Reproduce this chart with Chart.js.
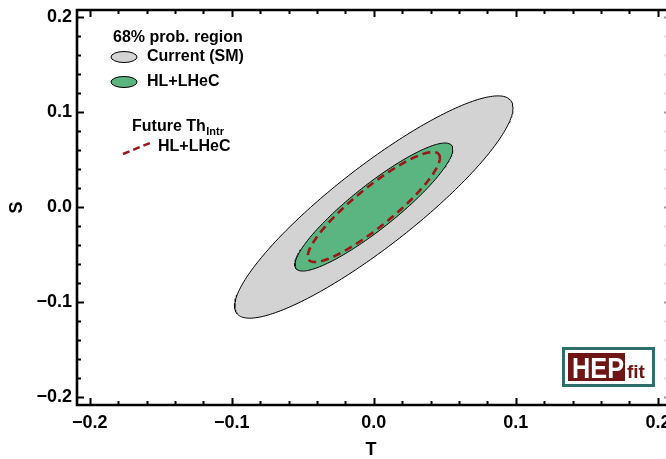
<!DOCTYPE html>
<html>
<head>
<meta charset="utf-8">
<script src="https://cdn.jsdelivr.net/npm/chart.js@4/dist/chart.umd.min.js"></script>
<style>
html,body{margin:0;padding:0;background:#fff;}
#wrap{width:666px;height:459px;position:relative;}
</style>
</head>
<body>
<div id="wrap"><canvas id="c" width="666" height="459"></canvas></div>
<script>
// ---- data ----
const T_TICKS = [-0.2, -0.1, 0.0, 0.1, 0.2];
const S_TICKS = [-0.2, -0.1, 0.0, 0.1, 0.2];
const T_MINOR_STEP = 0.02;
const S_MINOR_STEP = 0.02;
const T_RANGE = [-0.209, 0.205];
const S_RANGE = [-0.2084, 0.2074];

// 68% probability regions (ellipses): centre, half-extent along T and S, correlation
const REGION_LABELS = ['Current (SM)', 'HL+LHeC', 'HL+LHeC'];
const CENTER_T = [0.0, 0.0, 0.0];
const CENTER_S = [0.0, 0.0, 0.0];
const EXTENT_T = [0.098, 0.0556, 0.0465];
const EXTENT_S = [0.117, 0.0674, 0.0579];
const CORR     = [0.892, 0.902, 0.894];

const LEGEND_TITLE = '68% prob. region';
const LEGEND_TITLE2 = 'Future Th';
const LEGEND_TITLE2_SUB = 'Intr';

const FONT = "'Liberation Sans', Arial, Helvetica, sans-serif";
const GRAY = '#d3d3d3';
const GREEN = '#5ab581';
const RED = '#9c1616';

function ellipsePoints(i, n) {
  const pts = [];
  const r = Math.sqrt(1 - CORR[i] * CORR[i]);
  for (let k = 0; k <= n; k++) {
    const t = 2 * Math.PI * k / n;
    pts.push({
      x: CENTER_T[i] + EXTENT_T[i] * Math.cos(t),
      y: CENTER_S[i] + EXTENT_S[i] * (CORR[i] * Math.cos(t) + r * Math.sin(t))
    });
  }
  return pts;
}

function fmt(v) {
  const s = (Math.abs(v) < 1e-9 ? 0 : v).toFixed(1);
  return s.replace('-', '\u2212');
}

const framePlugin = {
  id: 'frame',
  afterDatasetsDraw(chart) {
    const {ctx, chartArea: a, scales: {x, y}} = chart;
    ctx.save();
    // ticks
    ctx.strokeStyle = '#000';
    ctx.lineWidth = 2;
    const tMin = Math.ceil(T_RANGE[0] / T_MINOR_STEP - 1e-6);
    const tMax = Math.floor(T_RANGE[1] / T_MINOR_STEP + 1e-6);
    for (let k = tMin; k <= tMax; k++) {
      const v = k * T_MINOR_STEP;
      const major = T_TICKS.some(m => Math.abs(m - v) < 1e-6);
      const len = major ? 7 : 4;
      const px = Math.round(x.getPixelForValue(v)) + 0.5;
      ctx.beginPath();
      ctx.moveTo(px, a.bottom); ctx.lineTo(px, a.bottom - len);
      ctx.moveTo(px, a.top); ctx.lineTo(px, a.top + len);
      ctx.stroke();
    }
    const sMin = Math.ceil(S_RANGE[0] / S_MINOR_STEP - 1e-6);
    const sMax = Math.floor(S_RANGE[1] / S_MINOR_STEP + 1e-6);
    for (let k = sMin; k <= sMax; k++) {
      const v = k * S_MINOR_STEP;
      const major = S_TICKS.some(m => Math.abs(m - v) < 1e-6);
      const len = major ? 7 : 4;
      const py = Math.round(y.getPixelForValue(v)) + 0.5;
      ctx.strokeStyle = '#000';
      ctx.beginPath();
      ctx.moveTo(a.left, py); ctx.lineTo(a.left + len, py);
      ctx.stroke();
      ctx.strokeStyle = major ? '#999' : '#ddd';
      ctx.beginPath();
      ctx.moveTo(a.right + 1, py); ctx.lineTo(a.right - 1, py);
      ctx.stroke();
    }
    // frame (left, top, bottom)
    ctx.strokeStyle = '#000';
    ctx.lineWidth = 2.6;
    ctx.beginPath();
    ctx.moveTo(a.right + 2, a.top);
    ctx.lineTo(a.left, a.top);
    ctx.lineTo(a.left, a.bottom);
    ctx.lineTo(a.right + 2, a.bottom);
    ctx.stroke();

    // legend
    ctx.fillStyle = '#000';
    ctx.textBaseline = 'middle';
    ctx.textAlign = 'left';
    ctx.font = 'bold 16px ' + FONT;
    ctx.fillText(LEGEND_TITLE, 113, 38);
    const icons = [[GRAY, 57], [GREEN, 82]];
    icons.forEach(([col, cy], i) => {
      ctx.beginPath();
      ctx.ellipse(124, cy, 13, 5.5, 0, 0, 2 * Math.PI);
      ctx.fillStyle = col; ctx.fill();
      ctx.lineWidth = 1; ctx.strokeStyle = '#000'; ctx.stroke();
      ctx.fillStyle = '#000';
      ctx.fillText(REGION_LABELS[i], 147, cy);
    });
    ctx.fillText(LEGEND_TITLE2, 132, 127);
    const w2 = ctx.measureText(LEGEND_TITLE2).width;
    ctx.font = 'bold 11px ' + FONT;
    ctx.fillText(LEGEND_TITLE2_SUB, 132 + w2 + 0.5, 132);
    ctx.font = 'bold 16px ' + FONT;
    ctx.fillText(REGION_LABELS[2], 158, 147);
    ctx.strokeStyle = RED; ctx.lineWidth = 2.5; ctx.setLineDash([7, 4]);
    ctx.beginPath(); ctx.moveTo(123, 154); ctx.lineTo(150, 143); ctx.stroke();
    ctx.setLineDash([]);

    // HEPfit logo
    ctx.fillStyle = '#fff';
    ctx.fillRect(562, 347, 93, 40);
    ctx.strokeStyle = '#2f6e6a'; ctx.lineWidth = 3;
    ctx.strokeRect(563.5, 348.5, 90, 37);
    ctx.fillStyle = '#6e1515';
    ctx.fillRect(568, 353, 57, 28);
    ctx.fillStyle = '#fff';
    ctx.font = 'bold 29px ' + FONT;
    ctx.textBaseline = 'alphabetic';
    ctx.fillText('HEP', 572, 377.5, 52);
    ctx.fillStyle = '#6e1515';
    ctx.font = 'bold 19px ' + FONT;
    ctx.fillText('fit', 627, 378, 22);
    ctx.restore();
  }
};

const datasets = [];
const styles = [
  {bg: GRAY, bc: '#000', bw: 1, dash: [], fill: 'shape', order: 3},
  {bg: GREEN, bc: '#000', bw: 1, dash: [], fill: 'shape', order: 2},
  {bg: 'transparent', bc: RED, bw: 2.6, dash: [8, 5], fill: false, order: 1}
];
for (let i = 0; i < REGION_LABELS.length; i++) {
  datasets.push({
    label: REGION_LABELS[i],
    data: ellipsePoints(i, 240),
    showLine: true,
    fill: styles[i].fill,
    backgroundColor: styles[i].bg,
    borderColor: styles[i].bc,
    borderWidth: styles[i].bw,
    borderDash: styles[i].dash,
    pointRadius: 0,
    tension: 0,
    order: styles[i].order
  });
}

new Chart(document.getElementById('c'), {
  type: 'scatter',
  data: {datasets},
  options: {
    responsive: false,
    animation: false,
    layout: {padding: {top: 10, right: 1, left: 0, bottom: 0}},
    plugins: {legend: {display: false}, tooltip: {enabled: false}},
    scales: {
      x: {
        type: 'linear', position: 'bottom',
        min: T_RANGE[0], max: T_RANGE[1],
        grid: {display: false, drawTicks: false},
        border: {display: false},
        afterBuildTicks: s => { s.ticks = T_TICKS.map(v => ({value: v})); },
        afterFit: s => { s.height = 54; s.paddingLeft = 0; s.paddingRight = 0; },
        ticks: {padding: 7, color: '#000', font: {family: FONT, size: 18, weight: 'bold'},
                maxRotation: 0, autoSkip: false, callback: v => fmt(v)},
        title: {display: true, text: 'T', color: '#000', padding: {top: 0, bottom: 0},
                font: {family: FONT, size: 18, weight: 'bold', lineHeight: 1}}
      },
      y: {
        type: 'linear', position: 'left',
        min: S_RANGE[0], max: S_RANGE[1],
        grid: {display: false, drawTicks: false},
        border: {display: false},
        afterBuildTicks: s => { s.ticks = S_TICKS.map(v => ({value: v})); },
        afterFit: s => { s.width = 77; s.paddingTop = 0; s.paddingBottom = 0; },
        ticks: {padding: 5, color: '#000', font: {family: FONT, size: 18, weight: 'bold'},
                autoSkip: false, callback: v => fmt(v)},
        title: {display: true, text: 'S', color: '#000', padding: {top: 8, bottom: 0},
                font: {family: FONT, size: 18, weight: 'bold', lineHeight: 1}}
      }
    }
  },
  plugins: [framePlugin]
});
</script>
</body>
</html>
